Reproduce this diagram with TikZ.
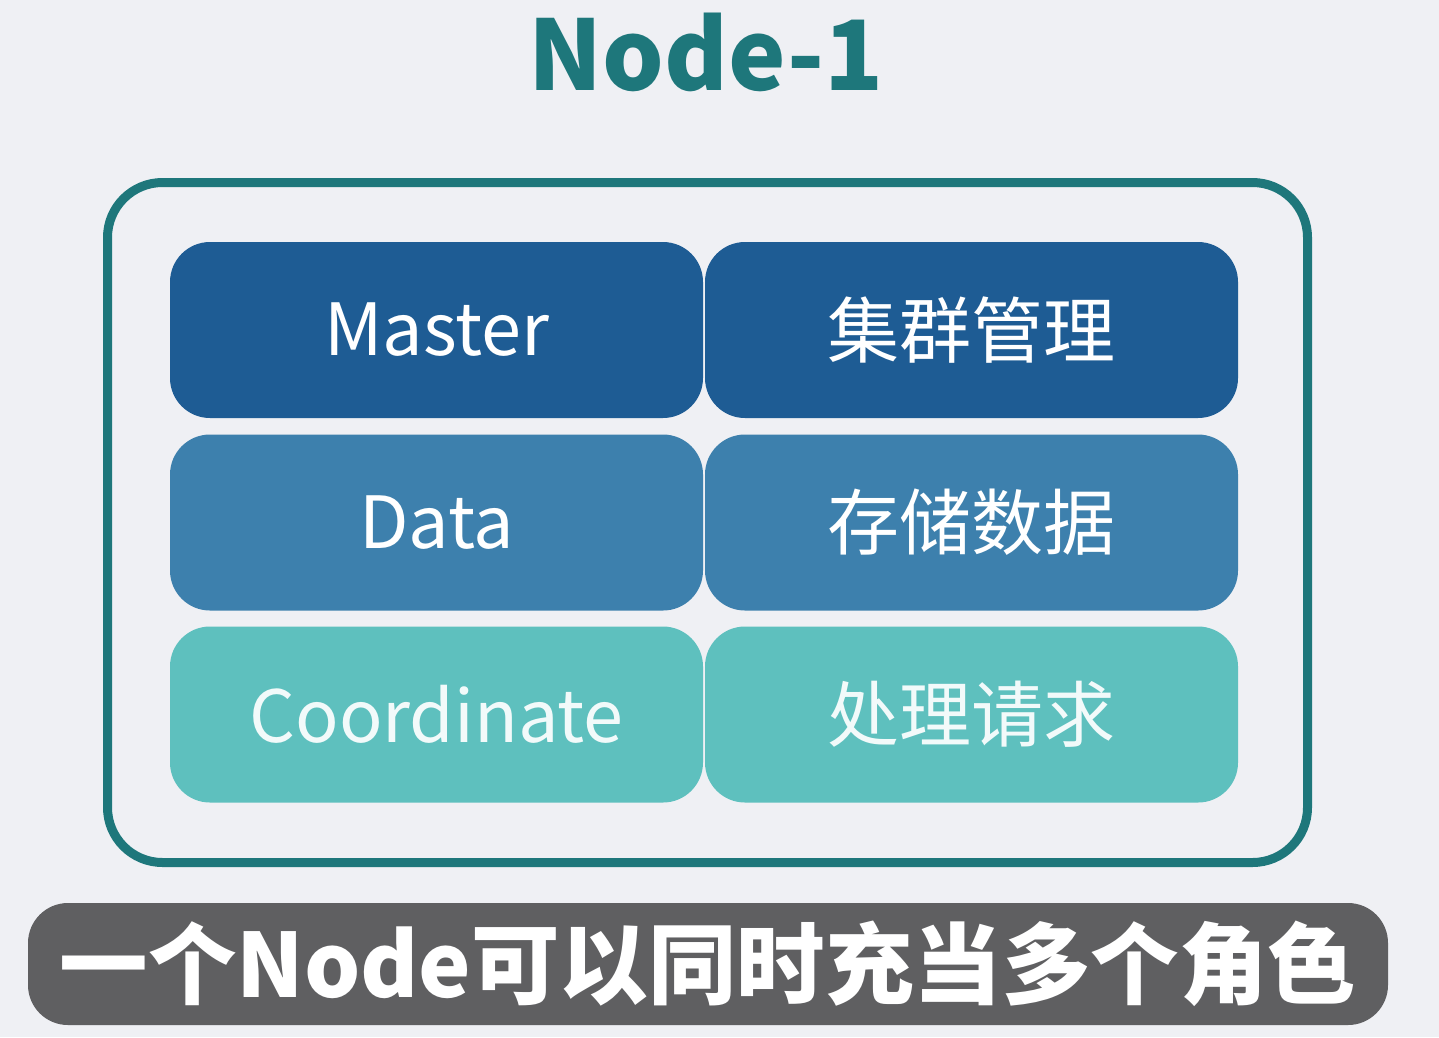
\documentclass[tikz,border=0pt]{standalone}
\usepackage{fontspec}
\setmainfont{Noto Sans CJK SC}
\newfontfamily\cjk{Noto Sans CJK SC}
\definecolor{bgc}{HTML}{EFF0F4}
\definecolor{teal1}{HTML}{1E777B}
\definecolor{mastc}{HTML}{1E5C94}
\definecolor{datac}{HTML}{3D80AD}
\definecolor{coorc}{HTML}{5EC0BE}
\definecolor{banc}{HTML}{5F5F61}
\begin{document}
\begin{tikzpicture}[x=1pt,y=-1pt,
  cell/.style={rounded corners=40pt, minimum width=533pt, minimum height=176pt, inner sep=0pt, text=white, font=\cjk\fontsize{72}{80}\selectfont},
]
\useasboundingbox[fill=bgc] (0,0) rectangle (1439,1037);
\node[font=\cjk\bfseries\fontsize{97}{105}\selectfont, text=teal1, inner sep=0pt] (title) at (706,52) {Node-1};
\node[draw=teal1, line width=9pt, rounded corners=55pt, minimum width=1200pt, minimum height=680pt, inner sep=0pt] (outer) at (707.5,522.5) {};
\node[cell, fill=mastc] (m1) at (436.5,330) {Master};
\node[cell, fill=mastc] (m2) at (971.5,330) {集群管理};
\node[cell, fill=datac] (d1) at (436.5,522.5) {Data};
\node[cell, fill=datac] (d2) at (971.5,522.5) {存储数据};
\node[cell, fill=coorc, text=white!92!coorc] (c1) at (436.5,714.5) {Coordinate};
\node[cell, fill=coorc, text=white!92!coorc] (c2) at (971.5,714.5) {处理请求};
\node[fill=banc, rounded corners=40pt, minimum width=1360pt, minimum height=122pt, inner sep=0pt, text=white, font=\cjk\bfseries\fontsize{88.5}{96}\selectfont] (banner) at (708,964) {一个Node可以同时充当多个角色};
\end{tikzpicture}
\end{document}
